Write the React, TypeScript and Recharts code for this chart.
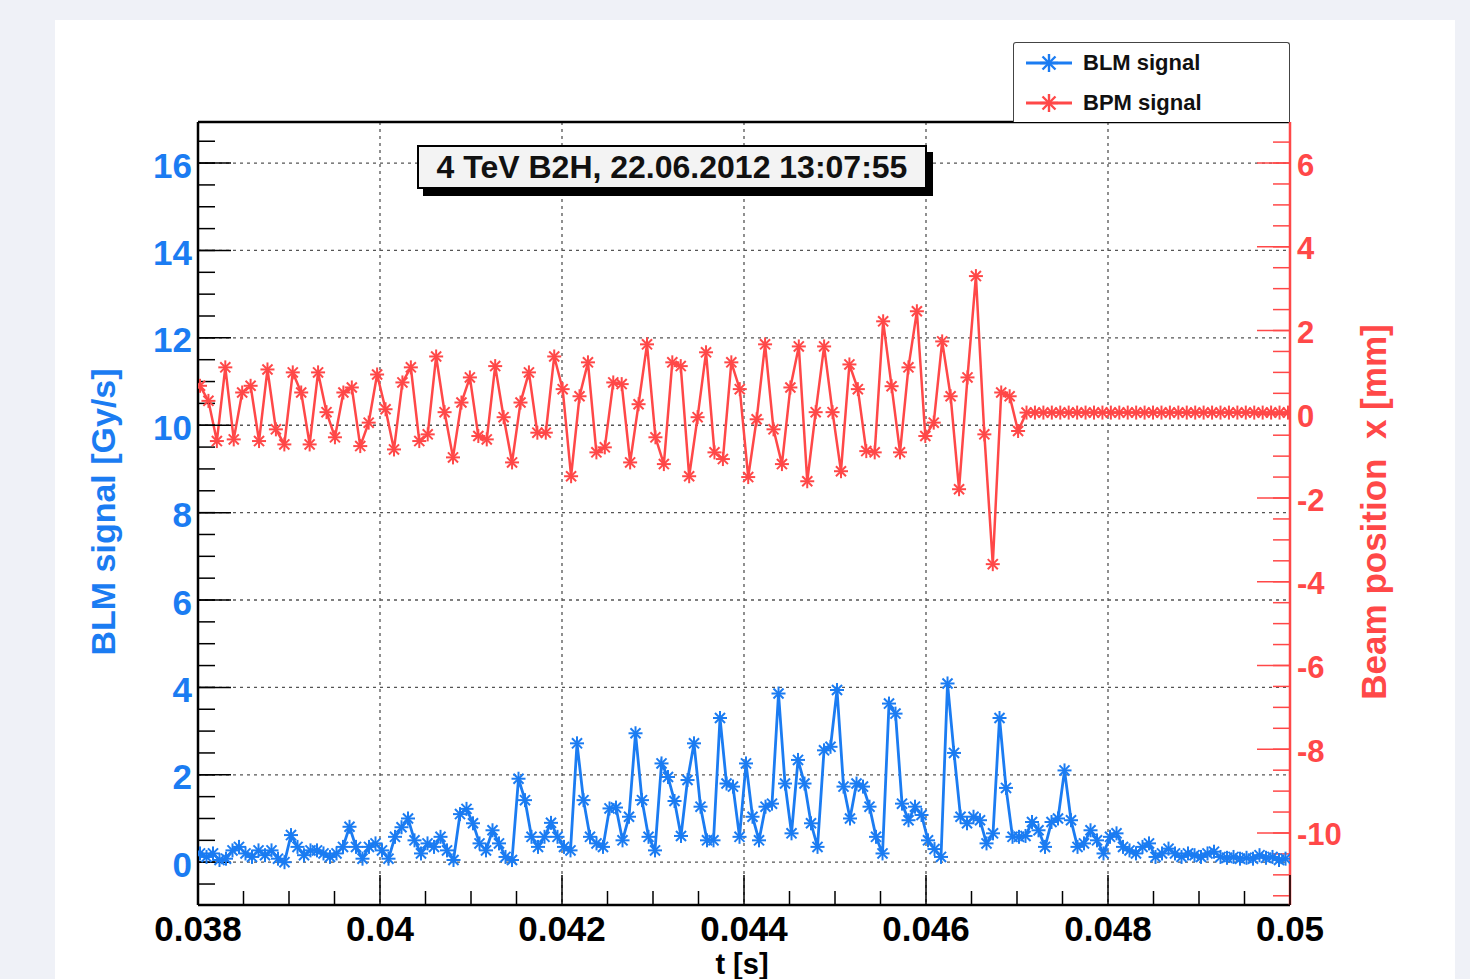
import React from "react";
import { LineChart, Line, XAxis, YAxis, CartesianGrid, Label } from "recharts";

const BLUE = "#1b7cf2";
const RED = "#ff4848";
const FONT = '"Liberation Sans", Arial, sans-serif';

// BLM signal [Gy/s], one reading per sample
const blmStart = 0.038022;
const blmStep = 0.00007143;
const blmValues = [
  0.2, 0.12, 0.2, 0.05, 0.08, 0.27, 0.35, 0.2, 0.12, 0.27,
  0.16, 0.27, 0.08, 0.0, 0.62, 0.35, 0.16, 0.27, 0.27, 0.2,
  0.12, 0.2, 0.35, 0.81, 0.35, 0.08, 0.35, 0.43, 0.27, 0.08,
  0.58, 0.8, 1.0, 0.5, 0.2, 0.43, 0.35, 0.58, 0.27, 0.05,
  1.1, 1.22, 0.89, 0.43, 0.27, 0.73, 0.43, 0.12, 0.05, 1.91,
  1.42, 0.58, 0.35, 0.58, 0.9, 0.58, 0.35, 0.27, 2.72, 1.42,
  0.58, 0.43, 0.35, 1.23, 1.25, 0.5, 1.04, 2.95, 1.42, 0.58,
  0.27, 2.26, 1.95, 1.4, 0.6, 1.88, 2.72, 1.27, 0.5, 0.5,
  3.3, 1.8, 1.73, 0.58, 2.26, 1.04, 0.5, 1.27, 1.34, 3.86,
  1.8, 0.66, 2.34, 1.8, 0.89, 0.35, 2.56, 2.64, 3.94, 1.73,
  1.0, 1.8, 1.73, 1.27, 0.58, 0.2, 3.63, 3.4, 1.34, 0.96,
  1.27, 1.08, 0.5, 0.3, 0.12, 4.09, 2.5, 1.04, 0.89, 1.04,
  0.96, 0.43, 0.66, 3.3, 1.7, 0.58, 0.58, 0.6, 0.92, 0.73,
  0.35, 0.92, 1.0, 2.1, 0.96, 0.35, 0.43, 0.73, 0.5, 0.2,
  0.58, 0.66, 0.35, 0.27, 0.2, 0.35, 0.43, 0.12, 0.2, 0.31,
  0.2, 0.12, 0.2, 0.16, 0.12, 0.2, 0.24, 0.12, 0.1, 0.12,
  0.08, 0.1, 0.08, 0.16, 0.1, 0.12, 0.05, 0.08,
];

// BPM beam position x [mm], one reading per turn
const bpmStart = 0.038022;
const bpmStep = 0.00009268;
const bpmValues = [
  0.68, 0.32, -0.64, 1.12, -0.6, 0.52, 0.68, -0.64, 1.07, -0.36,
  -0.72, 1.0, 0.52, -0.72, 1.0, 0.05, -0.55, 0.52, 0.64, -0.76,
  -0.2, 0.95, 0.12, -0.84, 0.76, 1.12, -0.64, -0.48, 1.38, 0.05,
  -1.03, 0.28, 0.88, -0.52, -0.6, 1.15, -0.07, -1.15, 0.28, 1.0,
  -0.44, -0.44, 1.38, 0.6, -1.48, 0.43, 1.24, -0.91, -0.79, 0.76,
  0.72, -1.15, 0.24, 1.67, -0.55, -1.19, 1.24, 1.15, -1.48, -0.07,
  1.48, -0.91, -1.07, 1.24, 0.6, -1.5, -0.12, 1.67, -0.36, -1.19,
  0.64, 1.62, -1.6, 0.05, 1.62, 0.05, -1.36, 1.19, 0.6, -0.88,
  -0.91, 2.22, 0.67, -0.91, 1.12, 2.46, -0.52, -0.2, 1.74, 0.43,
  -1.79, 0.88, 3.3, -0.48, -3.58, 0.52, 0.43, -0.4, 0.04, 0.04,
  0.04, 0.04, 0.04, 0.04, 0.04, 0.04, 0.04, 0.04, 0.04, 0.04,
  0.04, 0.04, 0.04, 0.04, 0.04, 0.04, 0.04, 0.04, 0.04, 0.04,
  0.04, 0.04, 0.04, 0.04, 0.04, 0.04, 0.04, 0.04, 0.04, 0.04,
];

const timeTicks = [0.038, 0.04, 0.042, 0.044, 0.046, 0.048, 0.05];
const blmTicks = [0, 2, 4, 6, 8, 10, 12, 14, 16];
const bpmTicks = [-10, -8, -6, -4, -2, 0, 2, 4, 6];

const steps = (from: number, to: number, step: number) => {
  const out: number[] = [];
  for (let v = from; v <= to + step / 10; v += step) out.push(+v.toFixed(5));
  return out;
};
const timeMinor = steps(0.038, 0.05, 0.0005);
const blmMinor = steps(-0.5, 16.5, 0.5);
const bpmMinor = steps(-11.5, 6.5, 0.5);

const blmData = blmValues.map((v, i) => ({ t: blmStart + i * blmStep, blm: v }));
const bpmData = bpmValues.map((v, i) => ({ t: bpmStart + i * bpmStep, bpm: v }));

const Star = ({ cx, cy, color, r = 7, w = 2 }: any) => {
  const d = r * 0.72;
  return (
    <g stroke={color} strokeWidth={w}>
      <line x1={cx - r} y1={cy} x2={cx + r} y2={cy} />
      <line x1={cx} y1={cy - r} x2={cx} y2={cy + r} />
      <line x1={cx - d} y1={cy - d} x2={cx + d} y2={cy + d} />
      <line x1={cx - d} y1={cy + d} x2={cx + d} y2={cy - d} />
    </g>
  );
};

const starDot = (color: string) => (p: any) => (
  <Star key={`s-${p.index}`} cx={p.cx} cy={p.cy} color={color} />
);

const NoTick = () => <g />;

// bottom axis: tickSize 0, so the axis line sits X_MARGIN above the label anchor
const X_MARGIN = 36;
const XTick = ({ x, y, payload }: any) => {
  const isMajor = timeTicks.some((t) => Math.abs(t - payload.value) < 1e-7);
  const axisY = y - X_MARGIN;
  return (
    <g>
      <line x1={x} y1={axisY} x2={x} y2={axisY - (isMajor ? 30 : 14)} stroke="#000" strokeWidth={1.5} />
      {isMajor && (
        <text x={x} y={y} textAnchor="middle" fill="#000" fontSize={35} fontWeight="bold" fontFamily={FONT}>
          {String(payload.value)}
        </text>
      )}
    </g>
  );
};

const LeftTick = ({ x, y, payload }: any) => (
  <text x={x} y={y + 2} textAnchor="end" dominantBaseline="central" fill={BLUE} fontSize={35} fontWeight="bold" fontFamily={FONT}>
    {payload.value}
  </text>
);

const RightTick = ({ x, y, payload }: any) => (
  <text x={x} y={y + 2} textAnchor="start" dominantBaseline="central" fill={RED} fontSize={31} fontWeight="bold" fontFamily={FONT}>
    {payload.value}
  </text>
);

const LegendRow = ({ color, text, top }: any) => (
  <div style={{ position: "absolute", left: 0, top, height: 40, width: 277 }}>
    <svg width={62} height={40} style={{ position: "absolute", left: 8, top: 0 }}>
      <line x1={4} y1={20} x2={50} y2={20} stroke={color} strokeWidth={3} />
      <Star cx={27} cy={20} color={color} r={9} w={2.4} />
    </svg>
    <span style={{ position: "absolute", left: 69, top: 7, fontSize: 22, fontWeight: "bold", color: "#111", whiteSpace: "nowrap" }}>
      {text}
    </span>
  </div>
);

export default function App() {
  return (
    <div style={{ position: "fixed", inset: 0, background: "#eff1f7", overflow: "hidden", fontFamily: FONT }}>
      <div style={{ position: "absolute", left: 55, top: 20, width: 1400, height: 979, background: "#fff" }} />
      <div style={{ position: "absolute", left: 0, top: 0 }}>
        <LineChart width={1470} height={979} margin={{ top: 122, right: 80, bottom: 24, left: 98 }}>
          <CartesianGrid
            xAxisId="t"
            yAxisId="blm"
            verticalValues={timeTicks}
            horizontalValues={blmTicks}
            stroke="#555"
            strokeWidth={1.3}
            strokeDasharray="3 4"
          />
          <XAxis
            xAxisId="t"
            type="number"
            dataKey="t"
            domain={[0.038, 0.05]}
            ticks={timeMinor}
            interval={0}
            allowDataOverflow
            height={50}
            tickSize={0}
            tickMargin={X_MARGIN}
            tick={<XTick />}
            axisLine={{ stroke: "#000", strokeWidth: 2.5 }}
            tickLine={false}
          >
            <Label
              content={() => (
                <text x={742} y={974} textAnchor="middle" fill="#000" fontSize={29} fontWeight="bold" fontFamily={FONT}>
                  t [s]
                </text>
              )}
            />
          </XAxis>
          <XAxis
            xAxisId="top"
            orientation="top"
            type="number"
            domain={[0.038, 0.05]}
            ticks={timeTicks}
            interval={0}
            allowDataOverflow
            mirror
            height={1}
            tick={NoTick}
            tickLine={false}
            axisLine={{ stroke: "#000", strokeWidth: 2.5 }}
          />
          <YAxis
            yAxisId="blm"
            orientation="left"
            type="number"
            domain={[-0.98, 16.94]}
            ticks={blmTicks}
            interval={0}
            allowDataOverflow
            width={100}
            tickSize={-33}
            tickMargin={39}
            tick={<LeftTick />}
            axisLine={{ stroke: "#000", strokeWidth: 2.5 }}
            tickLine={{ stroke: "#000", strokeWidth: 1.5 }}
          >
            <Label
              content={() => (
                <text
                  x={103}
                  y={512}
                  transform="rotate(-90 103 512)"
                  textAnchor="middle"
                  dominantBaseline="central"
                  fill={BLUE}
                  fontSize={34}
                  fontWeight="bold"
                  fontFamily={FONT}
                >
                  BLM signal [Gy/s]
                </text>
              )}
            />
          </YAxis>
          <YAxis
            yAxisId="blmMinor"
            orientation="left"
            type="number"
            domain={[-0.98, 16.94]}
            ticks={blmMinor}
            interval={0}
            allowDataOverflow
            mirror
            width={1}
            tickSize={17}
            tick={NoTick}
            axisLine={false}
            tickLine={{ stroke: "#000", strokeWidth: 1.5 }}
          />
          <YAxis
            yAxisId="bpm"
            orientation="right"
            type="number"
            domain={[-11.72, 6.98]}
            ticks={bpmTicks}
            interval={0}
            allowDataOverflow
            width={100}
            tickSize={-33}
            tickMargin={40}
            tick={<RightTick />}
            axisLine={{ stroke: RED, strokeWidth: 2.5 }}
            tickLine={{ stroke: RED, strokeWidth: 1.5 }}
          >
            <Label
              content={() => (
                <text
                  x={1373}
                  y={512}
                  transform="rotate(-90 1373 512)"
                  textAnchor="middle"
                  dominantBaseline="central"
                  fill={RED}
                  fontSize={35}
                  fontWeight="bold"
                  fontFamily={FONT}
                  style={{ whiteSpace: "pre" }}
                >
                  {"Beam position  x [mm]"}
                </text>
              )}
            />
          </YAxis>
          <YAxis
            yAxisId="bpmMinor"
            orientation="right"
            type="number"
            domain={[-11.72, 6.98]}
            ticks={bpmMinor}
            interval={0}
            allowDataOverflow
            mirror
            width={1}
            tickSize={17}
            tick={NoTick}
            axisLine={false}
            tickLine={{ stroke: RED, strokeWidth: 1.5 }}
          />
          <Line
            xAxisId="t"
            yAxisId="bpm"
            data={bpmData}
            dataKey="bpm"
            type="linear"
            stroke={RED}
            strokeWidth={2.5}
            dot={starDot(RED)}
            activeDot={false}
            isAnimationActive={false}
          />
          <Line
            xAxisId="t"
            yAxisId="blm"
            data={blmData}
            dataKey="blm"
            type="linear"
            stroke={BLUE}
            strokeWidth={2.8}
            dot={starDot(BLUE)}
            activeDot={false}
            isAnimationActive={false}
          />
        </LineChart>
      </div>

      <div
        style={{
          position: "absolute",
          left: 417,
          top: 145,
          width: 506,
          height: 40,
          border: "2px solid #000",
          background: "#f3f3f3",
          boxShadow: "6px 7px 0 #000",
          display: "flex",
          alignItems: "center",
          justifyContent: "center",
          fontSize: 32,
          fontWeight: "bold",
          color: "#111",
          whiteSpace: "nowrap",
        }}
      >
        4 TeV B2H, 22.06.2012 13:07:55
      </div>

      <div
        style={{
          position: "absolute",
          left: 1013,
          top: 42,
          width: 275,
          height: 79,
          border: "1.5px solid #444",
          borderBottom: "none",
          borderRadius: "3px 3px 0 0",
          background: "#fff",
        }}
      >
        <LegendRow color={BLUE} text="BLM signal" top={0} />
        <LegendRow color={RED} text="BPM signal" top={40} />
      </div>
    </div>
  );
}
